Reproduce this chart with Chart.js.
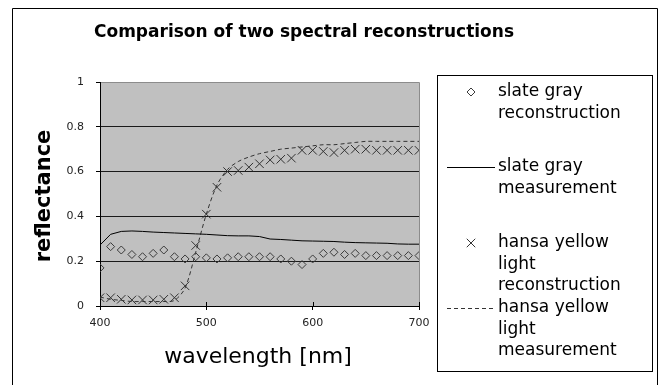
<!DOCTYPE html>
<html>
<head>
<meta charset="utf-8">
<script src="https://cdn.jsdelivr.net/npm/chart.js@4"></script>
<style>
  body { margin: 0; background: #fff; }
  canvas { display: block; }
</style>
</head>
<body>
<canvas id="chart" width="660" height="385"></canvas>
<script>
// wavelengths in nm
const wavelengths = [400, 410, 420, 430, 440, 450, 460, 470, 480, 490, 500, 510, 520, 530, 540, 550,
                     560, 570, 580, 590, 600, 610, 620, 630, 640, 650, 660, 670, 680, 690, 700];

const slateRecon = [0.17, 0.265, 0.25, 0.23, 0.22, 0.235, 0.25, 0.22, 0.21, 0.22, 0.215, 0.21, 0.215, 0.22, 0.22, 0.22,
                    0.22, 0.21, 0.20, 0.185, 0.21, 0.235, 0.24, 0.23, 0.235, 0.225, 0.225, 0.225, 0.225, 0.225, 0.225];

const slateMeas = [0.272, 0.32, 0.333, 0.335, 0.333, 0.33, 0.328, 0.326, 0.324, 0.322, 0.32, 0.317, 0.314, 0.313, 0.313, 0.31,
                   0.299, 0.297, 0.294, 0.291, 0.29, 0.289, 0.288, 0.285, 0.283, 0.282, 0.281, 0.28, 0.277, 0.276, 0.276];

const hansaRecon = [0.037, 0.037, 0.03, 0.027, 0.027, 0.027, 0.03, 0.037, 0.09, 0.27, 0.41, 0.53, 0.60, 0.605, 0.62, 0.635,
                    0.652, 0.655, 0.66, 0.695, 0.695, 0.69, 0.685, 0.695, 0.70, 0.70, 0.695, 0.695, 0.695, 0.695, 0.695];

const hansaMeas = [0.04, 0.03, 0.025, 0.02, 0.02, 0.02, 0.02, 0.025, 0.08, 0.24, 0.41, 0.54, 0.61, 0.645, 0.665, 0.68,
                   0.69, 0.70, 0.705, 0.71, 0.715, 0.72, 0.72, 0.725, 0.73, 0.735, 0.735, 0.735, 0.735, 0.735, 0.735];

const xTicks = [400, 500, 600, 700];
const yTicks = [0, 0.2, 0.4, 0.6, 0.8, 1];
const yTickLabels = ['0', '0.2', '0.4', '0.6', '0.8', '1'];

const legendLabels = [
    ['slate gray', 'reconstruction'],
    ['slate gray', 'measurement'],
    ['hansa yellow', 'light', 'reconstruction'],
    ['hansa yellow', 'light', 'measurement']
];

function toPoints(values) {
    return wavelengths.map((w, i) => ({ x: w, y: values[i] }));
}

// Background, plot area fill and outer frame
const backgroundPlugin = {
    id: 'background',
    beforeDraw(chart) {
        const ctx = chart.ctx;
        const a = chart.chartArea;
        ctx.save();
        ctx.fillStyle = '#fff';
        ctx.fillRect(0, 0, chart.width, chart.height);
        ctx.fillStyle = '#c0c0c0';
        ctx.fillRect(a.left, a.top, a.right - a.left, a.bottom - a.top);
        // plot area border (top and right)
        ctx.strokeStyle = '#8c8c8c';
        ctx.lineWidth = 1;
        ctx.beginPath();
        ctx.moveTo(a.left, a.top + 0.5);
        ctx.lineTo(a.right + 0.5, a.top + 0.5);
        ctx.lineTo(a.right + 0.5, a.bottom);
        ctx.stroke();
        // outer frame
        ctx.strokeStyle = '#000';
        ctx.beginPath();
        ctx.moveTo(12.5, chart.height);
        ctx.lineTo(12.5, 8.5);
        ctx.lineTo(657.5, 8.5);
        ctx.lineTo(657.5, chart.height);
        ctx.stroke();
        ctx.restore();
    },
    afterDatasetsDraw(chart) {
        // small tick marks crossing into the plot on the x axis
        const ctx = chart.ctx;
        const xs = chart.scales.x;
        const a = chart.chartArea;
        ctx.save();
        ctx.strokeStyle = '#000';
        ctx.lineWidth = 1;
        ctx.beginPath();
        xTicks.forEach(t => {
            const px = Math.round(xs.getPixelForValue(t)) + 0.5;
            ctx.moveTo(px, a.bottom);
            ctx.lineTo(px, a.bottom - 4);
        });
        ctx.stroke();
        ctx.restore();
    }
};

// Titles and legend
const textPlugin = {
    id: 'texts',
    afterDraw(chart) {
        const ctx = chart.ctx;
        ctx.save();
        ctx.fillStyle = '#000';
        ctx.textAlign = 'center';
        ctx.textBaseline = 'middle';

        ctx.font = 'bold 17px "DejaVu Sans"';
        ctx.fillText('Comparison of two spectral reconstructions', 304, 33);

        ctx.font = '22px "DejaVu Sans"';
        ctx.fillText('wavelength [nm]', 258, 357);

        ctx.save();
        ctx.translate(45, 196);
        ctx.rotate(-Math.PI / 2);
        ctx.font = 'bold 21px "DejaVu Sans"';
        ctx.fillText('reflectance', 0, 0);
        ctx.restore();

        // legend box
        ctx.strokeStyle = '#000';
        ctx.lineWidth = 1;
        ctx.strokeRect(437.5, 75.5, 215, 296);

        const rowY = [92, 167, 243, 308];
        const lineH = 21.5;
        ctx.font = '17px "DejaVu Sans"';
        ctx.textAlign = 'left';
        chart.data.datasets.forEach((ds, i) => {
            const y = rowY[i];
            if (ds.showLine === false) {
                ctx.strokeStyle = ds.pointBorderColor;
                ctx.fillStyle = 'rgba(0,0,0,0)';
                ctx.lineWidth = 1;
                Chart.helpers.drawPoint(ctx, {
                    pointStyle: ds.pointStyle,
                    radius: ds.pointRadius,
                    borderWidth: 1
                }, 471, y);
            } else {
                ctx.strokeStyle = ds.borderColor;
                ctx.lineWidth = 1;
                ctx.setLineDash(ds.borderDash || []);
                ctx.beginPath();
                ctx.moveTo(447, y + 0.5);
                ctx.lineTo(495, y + 0.5);
                ctx.stroke();
                ctx.setLineDash([]);
            }
            ctx.fillStyle = '#000';
            legendLabels[i].forEach((txt, j) => {
                ctx.fillText(txt, 498, y + j * lineH);
            });
        });
        ctx.restore();
    }
};

const ctx = document.getElementById('chart').getContext('2d');
new Chart(ctx, {
    type: 'line',
    data: {
        datasets: [
            {
                label: 'slate gray reconstruction',
                data: toPoints(slateRecon),
                showLine: false,
                pointStyle: 'rectRot',
                pointRadius: 4,
                pointBorderWidth: 1,
                pointBorderColor: '#3c3c3c',
                pointBackgroundColor: 'rgba(0,0,0,0)'
            },
            {
                label: 'slate gray measurement',
                data: toPoints(slateMeas),
                borderColor: '#000',
                borderWidth: 1,
                pointRadius: 0,
                tension: 0
            },
            {
                label: 'hansa yellow light reconstruction',
                data: toPoints(hansaRecon),
                showLine: false,
                pointStyle: 'crossRot',
                pointRadius: 6,
                pointBorderWidth: 1,
                pointBorderColor: '#333',
                pointBackgroundColor: 'rgba(0,0,0,0)'
            },
            {
                label: 'hansa yellow light measurement',
                data: toPoints(hansaMeas),
                borderColor: '#333',
                borderWidth: 1,
                borderDash: [4, 3],
                pointRadius: 0,
                tension: 0.3
            }
        ]
    },
    options: {
        responsive: false,
        animation: false,
        devicePixelRatio: 1,
        layout: { padding: { left: 0, right: 241, top: 82, bottom: 0 } },
        plugins: {
            legend: { display: false },
            title: { display: false },
            tooltip: { enabled: false }
        },
        scales: {
            x: {
                type: 'linear',
                min: 400,
                max: 700,
                afterBuildTicks: axis => { axis.ticks = xTicks.map(v => ({ value: v })); },
                afterFit: axis => { axis.height = 79; },
                grid: {
                    drawOnChartArea: false,
                    drawTicks: true,
                    tickLength: 4,
                    tickColor: '#000'
                },
                border: { display: true, color: '#000', width: 1 },
                ticks: {
                    color: '#222',
                    padding: 7,
                    maxRotation: 0,
                    font: { family: 'DejaVu Sans', size: 11 }
                }
            },
            y: {
                min: 0,
                max: 1,
                afterBuildTicks: axis => { axis.ticks = yTicks.map(v => ({ value: v })); },
                afterFit: axis => { axis.width = 100; },
                grid: {
                    color: c => (c.tick && (c.tick.value === 0 || c.tick.value === 1)) ? 'rgba(0,0,0,0)' : '#1a1a1a',
                    lineWidth: 1,
                    drawTicks: true,
                    tickLength: 4,
                    tickColor: '#000'
                },
                border: { display: true, color: '#000', width: 1 },
                ticks: {
                    color: '#222',
                    padding: 12,
                    font: { family: 'DejaVu Sans', size: 11 },
                    callback: (v, i) => yTickLabels[i]
                }
            }
        }
    },
    plugins: [backgroundPlugin, textPlugin]
});
</script>
</body>
</html>
